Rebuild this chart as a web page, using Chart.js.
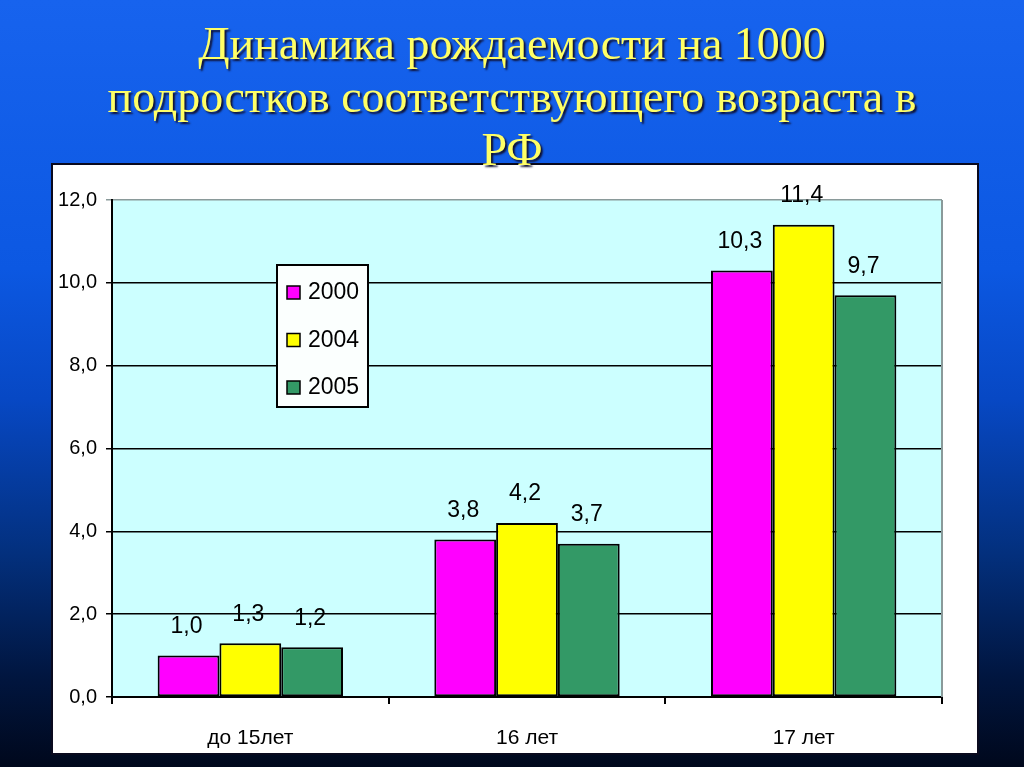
<!DOCTYPE html>
<html>
<head>
<meta charset="utf-8">
<script src="https://cdn.jsdelivr.net/npm/chart.js@4"></script>
<style>
    html, body { margin: 0; padding: 0; }
    body {
        width: 1024px;
        height: 767px;
        overflow: hidden;
        position: relative;
        background: linear-gradient(to bottom, #1763ee 0%, #0c58e2 35%, #0748c4 52%, #03307e 72%, #011640 88%, #00081c 100%);
    }
    .title {
        position: absolute;
        z-index: 2;
        left: 0;
        top: 17px;
        width: 1024px;
        text-align: center;
        font-family: "Liberation Serif", "DejaVu Serif", serif;
        font-size: 46px;
        line-height: 53px;
        color: #ffff66;
        text-shadow: 2px 2px 2px #101030;
    }
    .panel {
        position: absolute;
        z-index: 1;
        left: 51px;
        top: 163px;
        width: 924px;
        height: 588px;
        background: #ffffff;
        border: 2px solid #0a0a1e;
    }
</style>
</head>
<body>
<div class="title">Динамика рождаемости на 1000<br>подростков соответствующего возраста в<br>РФ</div>
<div class="panel"><canvas id="births-chart" width="924" height="588"></canvas></div>
<script>
/* Births per 1000 teenagers, RF — grouped bars */

const ageGroups = ['до 15лет', '16 лет', '17 лет'];
const years = ['2000', '2004', '2005'];
const values2000 = [1.0, 3.8, 10.3];
const values2004 = [1.3, 4.2, 11.4];
const values2005 = [1.2, 3.7, 9.7];
const yearColors = ['#ff00ff', '#ffff00', '#339966'];

const FONT = '"Liberation Sans", Arial, sans-serif';

function fmt(v) {
    return v.toFixed(1).replace('.', ',');
}

// ── Plot background + right border ───────────────────────────────────────

const plotArea = {
    id: 'plotArea',
    beforeDraw(chart) {
        const { ctx, chartArea: a } = chart;
        ctx.save();
        ctx.fillStyle = '#ccffff';
        ctx.fillRect(a.left, a.top, a.right - a.left, a.bottom - a.top);
        ctx.restore();
    },
    afterDraw(chart) {
        const { ctx, chartArea: a } = chart;
        ctx.save();
        ctx.strokeStyle = '#8a9a9a';
        ctx.lineWidth = 2;
        ctx.beginPath();
        ctx.moveTo(a.right, a.top);
        ctx.lineTo(a.right, a.bottom);
        ctx.stroke();
        ctx.restore();
    }
};

// ── Value labels above bars ──────────────────────────────────────────────

const barLabels = {
    id: 'barLabels',
    afterDatasetsDraw(chart) {
        const ctx = chart.ctx;
        ctx.save();
        ctx.font = '23px ' + FONT;
        ctx.fillStyle = '#000';
        ctx.textAlign = 'center';
        ctx.textBaseline = 'middle';
        chart.data.datasets.forEach((ds, i) => {
            chart.getDatasetMeta(i).data.forEach((bar, j) => {
                ctx.fillText(fmt(ds.data[j]), bar.x - 2, bar.y - 29);
            });
        });
        ctx.restore();
    }
};

// ── Boxed legend inside the plot ─────────────────────────────────────────

const boxLegend = {
    id: 'boxLegend',
    afterDraw(chart) {
        const ctx = chart.ctx;
        const x = 224, y = 100, w = 91, h = 142;
        ctx.save();
        ctx.fillStyle = '#fbfffe';
        ctx.fillRect(x, y, w, h);
        ctx.strokeStyle = '#000';
        ctx.lineWidth = 2;
        ctx.strokeRect(x, y, w, h);
        ctx.font = '23px ' + FONT;
        ctx.textBaseline = 'middle';
        ctx.textAlign = 'left';
        chart.data.datasets.forEach((ds, i) => {
            const cy = y + 27 + i * 47.5;
            ctx.fillStyle = ds.backgroundColor;
            ctx.fillRect(x + 10, cy - 6, 13, 13);
            ctx.lineWidth = 1.5;
            ctx.strokeRect(x + 10, cy - 6, 13, 13);
            ctx.fillStyle = '#000';
            ctx.fillText(ds.label, x + 31, cy + 1);
        });
        ctx.restore();
    }
};

const seriesValues = [values2000, values2004, values2005];

new Chart(document.getElementById('births-chart'), {
    type: 'bar',
    data: {
        labels: ageGroups,
        datasets: years.map((yr, i) => ({
            label: yr,
            data: seriesValues[i],
            backgroundColor: yearColors[i],
            borderColor: '#000',
            borderWidth: 2,
            borderSkipped: false,
            barPercentage: 1.0,
            categoryPercentage: 0.67,
        })),
    },
    options: {
        responsive: false,
        animation: false,
        devicePixelRatio: 1,
        layout: { padding: { left: 0, top: 35, right: 35, bottom: 0 } },
        plugins: {
            legend: { display: false },
            tooltip: { enabled: false },
        },
        scales: {
            x: {
                afterFit(scale) { scale.height = 56; },
                grid: {
                    offset: true,
                    drawOnChartArea: false,
                    color: '#000',
                    lineWidth: 2,
                    tickLength: 7,
                },
                border: { color: '#000', width: 2 },
                ticks: {
                    color: '#000',
                    padding: 22,
                    font: { family: FONT, size: 21 },
                },
            },
            y: {
                min: 0,
                max: 12,
                afterFit(scale) { scale.width = 59; },
                grid: {
                    color: ctx => (ctx.tick && ctx.tick.value === 12 ? '#8a9a9a' : '#000'),
                    lineWidth: 1.5,
                    tickLength: 6,
                },
                border: { color: '#000', width: 2 },
                ticks: {
                    stepSize: 2,
                    color: '#000',
                    padding: 9,
                    font: { family: FONT, size: 20 },
                    callback: v => fmt(v),
                },
            },
        },
    },
    plugins: [plotArea, barLabels, boxLegend],
});
</script>
</body>
</html>
